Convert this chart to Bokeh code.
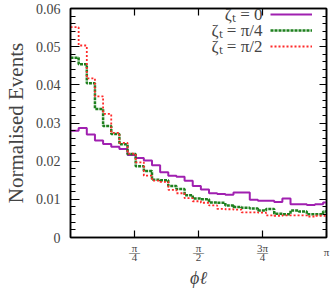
import numpy as np
from bokeh.plotting import figure
from bokeh.models import Range1d, FixedTicker, LinearAxis, Label, Legend, LegendItem
from bokeh.embed import file_html
from bokeh.resources import INLINE

# ---- data -------------------------------------------------------------
bin_edges = [round(0.1 * i, 1) for i in range(33)]  # 0.1 rad bins, last clipped at pi

events_zeta0 = [0.0280, 0.0287, 0.0270, 0.0254, 0.0245, 0.0238, 0.0232, 0.0216,
                0.0208, 0.0202, 0.0189, 0.0171, 0.0162, 0.0159, 0.0149, 0.0135,
                0.0126, 0.0116, 0.0114, 0.0112, 0.0118, 0.0118, 0.0099, 0.0096,
                0.0096, 0.0093, 0.0102, 0.0087, 0.0087, 0.0085, 0.0087, 0.0092]
events_zeta_pi4 = [0.0471, 0.0454, 0.0404, 0.0337, 0.0292, 0.0271, 0.0244, 0.0219,
                   0.0187, 0.0174, 0.0151, 0.0150, 0.0135, 0.0127, 0.0111, 0.0102,
                   0.0100, 0.0092, 0.0091, 0.0084, 0.0080, 0.0078, 0.0076, 0.0071,
                   0.0075, 0.0062, 0.0061, 0.0071, 0.0068, 0.0061, 0.0061, 0.0068]
events_zeta_pi2 = [0.0551, 0.0503, 0.0417, 0.0370, 0.0324, 0.0274, 0.0248, 0.0220,
                   0.0197, 0.0162, 0.0149, 0.0146, 0.0125, 0.0116, 0.0103, 0.0095,
                   0.0091, 0.0084, 0.0075, 0.0074, 0.0073, 0.0066, 0.0066, 0.0065,
                   0.0058, 0.0057, 0.0058, 0.0058, 0.0058, 0.0055, 0.0057, 0.0057]

series_labels = ["ζₜ = 0", "ζₜ = π/4", "ζₜ = π/2"]

x_tick_values = [np.pi / 4, np.pi / 2, 3 * np.pi / 4, np.pi]
x_tick_labels = ["π\n―\n4", "π\n―\n2", "3π\n―\n4", "\nπ"]

y_tick_values = [0, 0.01, 0.02, 0.03, 0.04, 0.05, 0.06]
y_tick_labels = ["0", "0.01", "0.02", "0.03", "0.04", "0.05", "0.06"]
y_minor_values = [round(0.002 * i, 3) for i in range(31)]

# ---- style ------------------------------------------------------------
FONT = "Liberation Serif"
colors = ["#A020B0", "#1E801E", "#FF2A2A"]
widths = [2, 2.5, 1.8]
dashes = ["solid", "3 1", "2 2"]

W, H = 332, 291
B_LEFT, B_RIGHT, B_TOP, B_BOTTOM = 65, 6, 8, 49
FW, FH = W - B_LEFT - B_RIGHT, H - B_TOP - B_BOTTOM

p = figure(width=W, height=H, output_backend="svg", toolbar_location=None,
           x_range=Range1d(0, np.pi), y_range=Range1d(0, 0.06),
           x_axis_location=None, y_axis_location=None,
           min_border_left=B_LEFT, min_border_right=B_RIGHT,
           min_border_top=B_TOP, min_border_bottom=B_BOTTOM)
p.grid.visible = False
p.outline_line_color = "black"
p.outline_line_width = 1.5
p.background_fill_color = "white"
p.border_fill_color = "white"

def style_axis(ax):
    ax.axis_line_color = "black"
    ax.axis_line_width = 1.5
    ax.major_tick_line_color = "black"
    ax.minor_tick_line_color = "black"
    ax.major_tick_line_width = 1.2
    ax.minor_tick_line_width = 1.2
    ax.major_tick_out = 0
    ax.minor_tick_out = 0

# x axes (below, above)
for loc in ("below", "above"):
    ax = LinearAxis(ticker=FixedTicker(ticks=x_tick_values, minor_ticks=[]))
    style_axis(ax)
    ax.major_tick_in = 7
    ax.minor_tick_in = 0
    if loc == "below":
        ax.major_label_overrides = dict(zip(x_tick_values, x_tick_labels))
        ax.major_label_text_font = FONT
        ax.major_label_text_font_size = "11px"
        ax.major_label_text_line_height = 0.4
        ax.major_label_standoff = 4
        ax.axis_label = "ϕℓ"
        ax.axis_label_text_font = FONT
        ax.axis_label_text_font_size = "18px"
        ax.axis_label_text_font_style = "italic"
        ax.axis_label_standoff = 2
    else:
        ax.major_label_overrides = {t: "" for t in x_tick_values}
        ax.major_label_standoff = 0
    p.add_layout(ax, loc)

# y axes (left, right)
for loc in ("left", "right"):
    ax = LinearAxis(ticker=FixedTicker(ticks=y_tick_values, minor_ticks=y_minor_values))
    style_axis(ax)
    if loc == "left":
        ax.major_tick_in = 9
        ax.minor_tick_in = 5
        ax.major_label_overrides = dict(zip(y_tick_values, y_tick_labels))
        ax.major_label_text_font = FONT
        ax.major_label_text_font_size = "14px"
        ax.major_label_standoff = 10
        ax.axis_label = "Normalised Events"
        ax.axis_label_text_font = FONT
        ax.axis_label_text_font_size = "21px"
        ax.axis_label_text_font_style = "normal"
        ax.axis_label_standoff = 5
    else:
        ax.major_tick_in = 7
        ax.minor_tick_in = 4
        ax.major_label_overrides = {t: "" for t in y_tick_values}
        ax.major_label_standoff = 0
    p.add_layout(ax, loc)

# histograms as steps
renderers = []
for vals, c, w, d in zip([events_zeta0, events_zeta_pi4, events_zeta_pi2], colors, widths, dashes):
    r = p.step(bin_edges, vals + [vals[-1]], mode="after",
               line_color=c, line_width=w, line_dash=d)
    renderers.append(r)

# legend: line samples via Legend, texts right-aligned to their left
ROW = 16
first_row = 11  # px from frame top to centre of first row
legend = Legend(items=[LegendItem(label=" ", renderers=[r]) for r in renderers],
                location=(FW - 61, FH - first_row + ROW // 2 - 3 * ROW),
                padding=0, spacing=0, margin=0,
                glyph_width=42, glyph_height=ROW, label_height=ROW, label_width=0,
                label_standoff=0, label_text_font_size="4px",
                border_line_alpha=0, background_fill_alpha=0)
p.add_layout(legend)
for i, lab in enumerate(series_labels):
    p.add_layout(Label(x=FW - 69, y=FH - first_row - ROW * i, x_units="screen", y_units="screen",
                       text=lab, text_font=FONT, text_font_size="17px",
                       text_align="right", text_baseline="middle"))

open("out.html", "w").write(file_html(p, INLINE))
